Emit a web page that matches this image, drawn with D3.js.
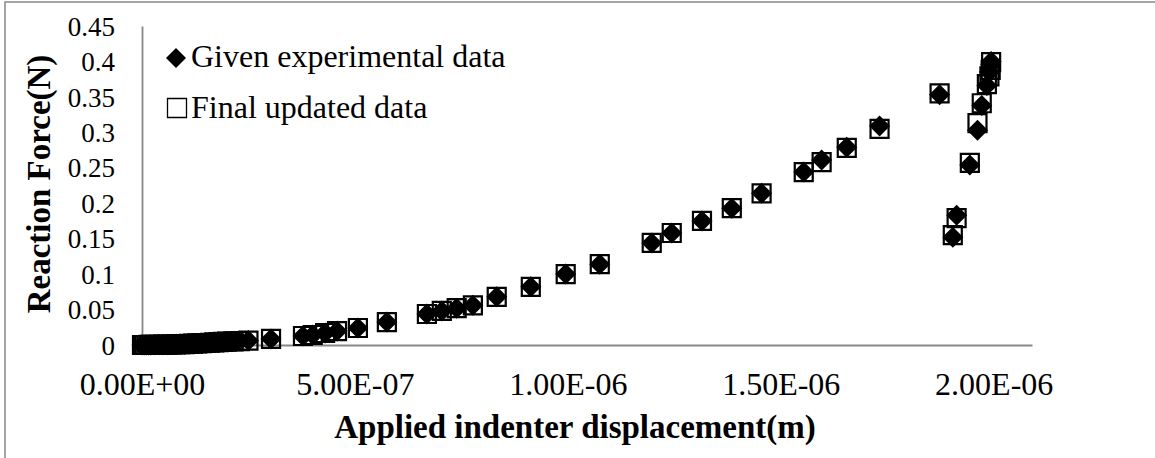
<!DOCTYPE html>
<html><head><meta charset="utf-8">
<script src="https://cdn.jsdelivr.net/npm/d3@7"></script>
<style>
html,body{margin:0;padding:0;background:#fff;}
svg{display:block;}
text{font-family:"Liberation Serif","Times New Roman",serif;fill:#000;}
</style></head>
<body><svg id="chart" width="1155" height="458"></svg>
<script>
// ---- data ----
const displacement = [
  0, 5e-9, 1.0e-8, 1.5e-8, 2.0e-8, 3.0e-8, 4.0e-8, 5.0e-8, 6.0e-8, 7.0e-8, 8.0e-8, 9.0e-8,
  1.0e-7, 1.1e-7, 1.2e-7, 1.3e-7, 1.4e-7, 1.5e-7, 1.6e-7, 1.7e-7, 1.8e-7, 1.9e-7, 2.0e-7,
  2.15e-7, 2.3e-7, 2.5e-7,
  3.03e-7, 3.78e-7, 4.01e-7, 4.30e-7, 4.58e-7, 5.07e-7, 5.75e-7, 6.69e-7, 7.04e-7, 7.39e-7,
  7.77e-7, 8.33e-7, 9.13e-7, 9.95e-7, 1.075e-6, 1.197e-6, 1.244e-6, 1.315e-6, 1.385e-6,
  1.455e-6, 1.554e-6, 1.596e-6, 1.655e-6, 1.732e-6, 1.873e-6, 1.904e-6, 1.913e-6, 1.944e-6,
  1.962e-6, 1.972e-6, 1.984e-6, 1.990e-6, 1.993e-6, 1.994e-6
];
const givenForce = [
  0, 0, 0, 0.0001, 0.0001, 0.0002, 0.0003, 0.0004, 0.0005, 0.0007, 0.0009, 0.0011,
  0.0013, 0.0016, 0.0019, 0.0022, 0.0025, 0.0028, 0.0032, 0.0036, 0.004, 0.0044, 0.0048,
  0.0052, 0.0056, 0.0062,
  0.0085, 0.0127, 0.0141, 0.0169, 0.0197, 0.024, 0.0324, 0.0437, 0.048, 0.052,
  0.056, 0.068, 0.082, 0.100, 0.114, 0.144, 0.158, 0.175, 0.193,
  0.214, 0.244, 0.261, 0.279, 0.309, 0.353, 0.152, 0.183, 0.254,
  0.303, 0.338, 0.366, 0.385, 0.396, 0.400
];
const updatedForce = [
  0, 0, 0, 0.0001, 0.0001, 0.0002, 0.0003, 0.0004, 0.0005, 0.0007, 0.0009, 0.0011,
  0.0013, 0.0016, 0.0019, 0.0022, 0.0025, 0.0028, 0.0032, 0.0036, 0.004, 0.0044, 0.0048,
  0.0052, 0.0056, 0.0062,
  0.0085, 0.0127, 0.0141, 0.0169, 0.0197, 0.024, 0.0324, 0.0437, 0.048, 0.052,
  0.056, 0.068, 0.082, 0.100, 0.114, 0.144, 0.158, 0.175, 0.193,
  0.214, 0.244, 0.258, 0.278, 0.305, 0.355, 0.155, 0.179, 0.257,
  0.313, 0.341, 0.368, 0.379, 0.388, 0.399
];
const xTicks = [0, 5e-7, 1e-6, 1.5e-6, 2e-6];
const xTickLabels = ["0.00E+00", "5.00E-07", "1.00E-06", "1.50E-06", "2.00E-06"];
const yTicks = [0, 0.05, 0.1, 0.15, 0.2, 0.25, 0.3, 0.35, 0.4, 0.45];
const yTickLabels = ["0", "0.05", "0.1", "0.15", "0.2", "0.25", "0.3", "0.35", "0.4", "0.45"];
const seriesNames = ["Given experimental data", "Final updated data"];
const xTitle = "Applied indenter displacement(m)";
const yTitle = "Reaction Force(N)";

// ---- layout ----
const svg = d3.select("#chart");
const axisColor = "#888888";
const x = d3.scaleLinear().domain([0, 2.09e-6]).range([142, 1032]);
const y = d3.scaleLinear().domain([0, 0.45]).range([345, 26]);

// outer chart border
svg.append("rect").attr("x", 5).attr("y", 2).attr("width", 1160).attr("height", 470)
  .attr("fill", "none").attr("stroke", axisColor).attr("stroke-width", 1.5);

// axes
const xAxis = svg.append("g").attr("transform", `translate(0,${y(0)})`)
  .call(d3.axisBottom(x).tickValues(xTicks).tickSize(0).tickPadding(0)
    .tickFormat((d, i) => xTickLabels[i]));
xAxis.select(".domain").attr("stroke", axisColor).attr("stroke-width", 1.8);
xAxis.selectAll("text").attr("font-size", 32).attr("dy", null).attr("y", 50)
  .attr("font-family", "Liberation Serif");

const yAxis = svg.append("g").attr("transform", `translate(${x(0)},0)`)
  .call(d3.axisLeft(y).tickValues(yTicks).tickSize(0).tickPadding(0)
    .tickFormat((d, i) => yTickLabels[i]));
yAxis.select(".domain").attr("stroke", axisColor).attr("stroke-width", 1.8);
yAxis.selectAll("text").attr("font-size", 27).attr("x", -27).attr("dy", "0.34em")
  .attr("font-family", "Liberation Serif");

// axis titles
svg.append("text").attr("x", 575).attr("y", 438).attr("text-anchor", "middle")
  .attr("font-size", 33).attr("font-weight", "bold").text(xTitle);
svg.append("text").attr("transform", "translate(50,184) rotate(-90)")
  .attr("text-anchor", "middle").attr("font-size", 33).attr("font-weight", "bold").text(yTitle);

// markers
const diamond = r => `M0,${-r}L${r},0L0,${r}L${-r},0Z`;
const square = s => `M${-s},${-s}H${s}V${s}H${-s}Z`;

const pts = displacement.map((d, i) => ({x: d, g: givenForce[i], u: updatedForce[i]}));

svg.append("g").selectAll("path").data(pts).join("path")
  .attr("d", diamond(10.5))
  .attr("transform", d => `translate(${x(d.x)},${y(d.g)})`)
  .attr("fill", "#000");

svg.append("g").selectAll("path").data(pts).join("path")
  .attr("d", square(9))
  .attr("transform", d => `translate(${x(d.x)},${y(d.u)})`)
  .attr("fill", "none").attr("stroke", "#000").attr("stroke-width", 2.2);

// legend
const lg = svg.append("g");
lg.append("path").attr("d", diamond(10)).attr("transform", "translate(176,58)").attr("fill", "#000");
lg.append("text").attr("x", 191).attr("y", 67).attr("font-size", 32).text(seriesNames[0]);
lg.append("path").attr("d", square(9.5)).attr("transform", "translate(177,108)")
  .attr("fill", "none").attr("stroke", "#000").attr("stroke-width", 1.3);
lg.append("text").attr("x", 191).attr("y", 118).attr("font-size", 32).text(seriesNames[1]);
</script></body></html>
